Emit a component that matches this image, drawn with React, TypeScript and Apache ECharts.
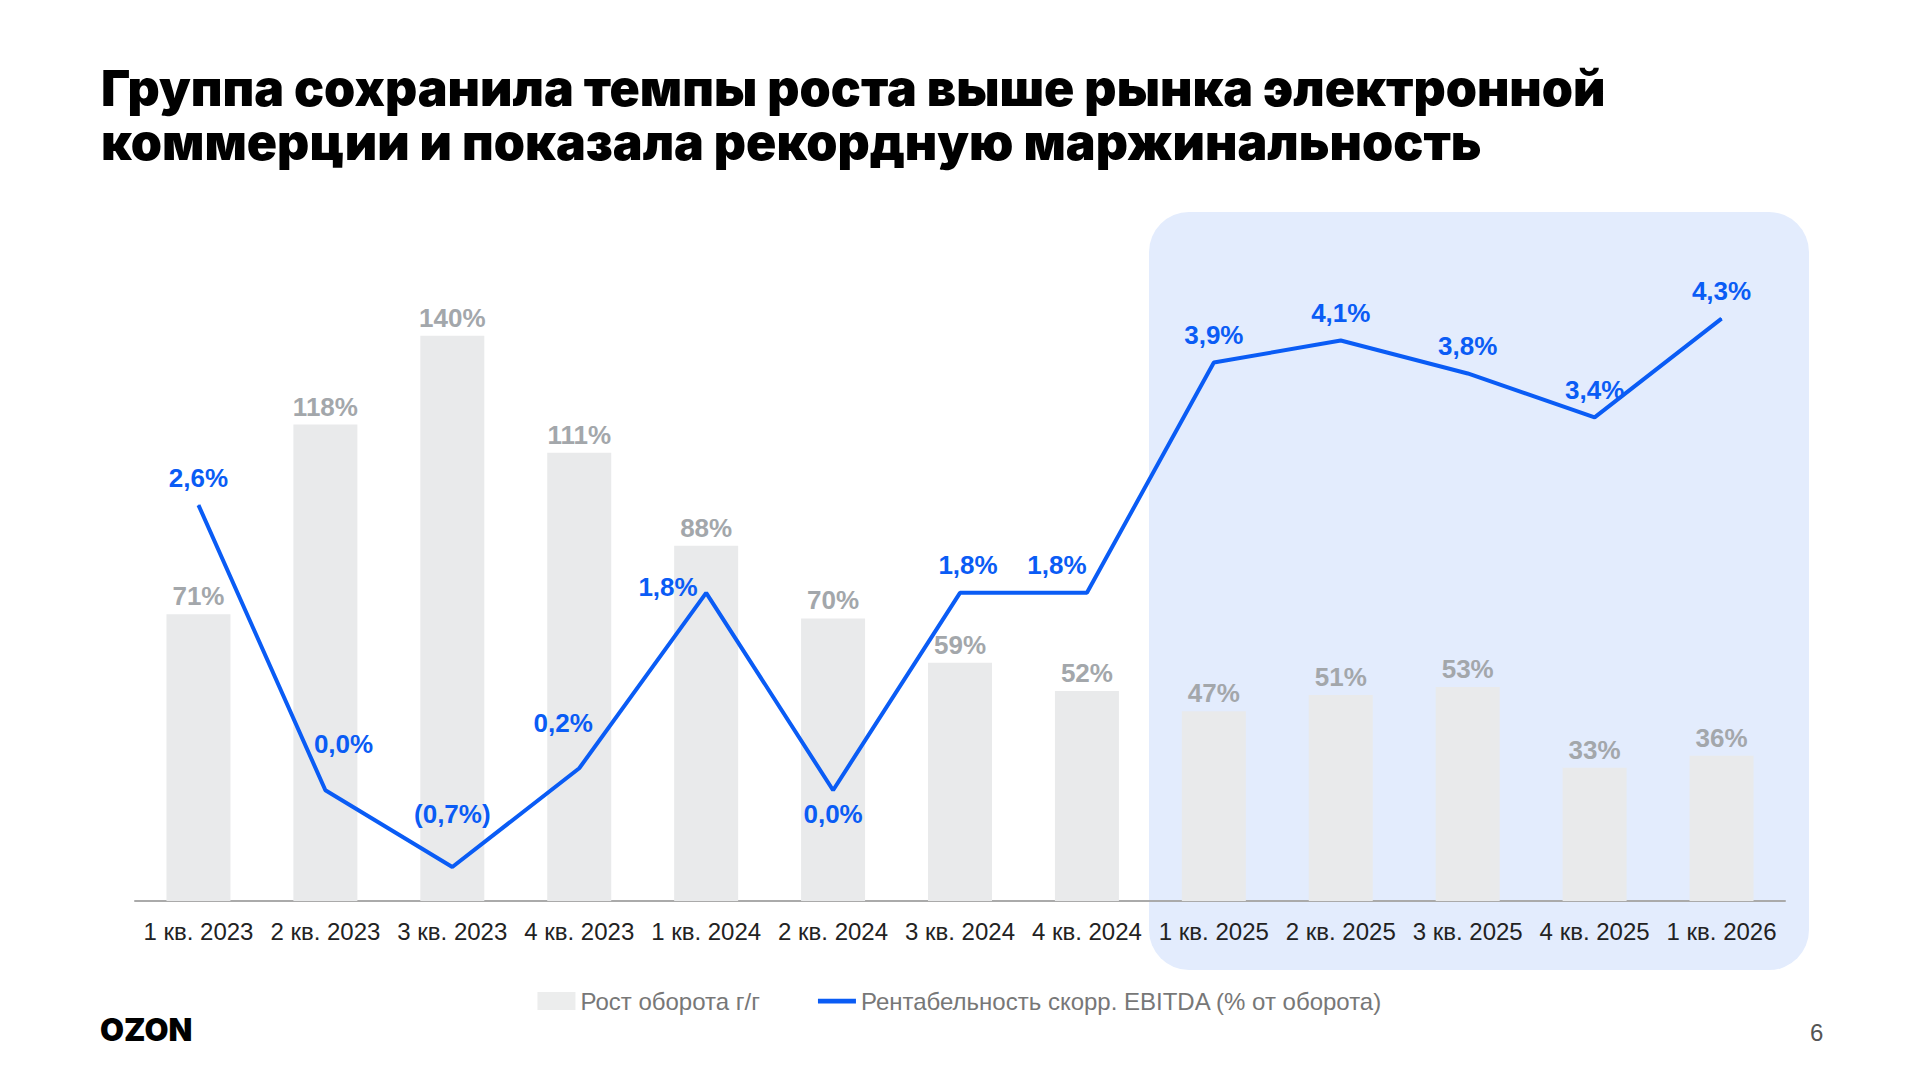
import React, { useEffect, useRef } from 'react';
import * as echarts from 'echarts';

const categories = ['1 кв. 2023', '2 кв. 2023', '3 кв. 2023', '4 кв. 2023', '1 кв. 2024', '2 кв. 2024', '3 кв. 2024', '4 кв. 2024', '1 кв. 2025', '2 кв. 2025', '3 кв. 2025', '4 кв. 2025', '1 кв. 2026'];
const growth = [71, 118, 140, 111, 88, 70, 59, 52, 47, 51, 53, 33, 36];
const margin = [2.6, 0.0, -0.7, 0.2, 1.8, 0.0, 1.8, 1.8, 3.9, 4.1, 3.8, 3.4, 4.3];

const fmtMargin = (v: number) => {
  const s = Math.abs(v).toFixed(1).replace('.', ',') + '%';
  return v < 0 ? '(' + s + ')' : s;
};

// label placement tweaks for the margin line, by point index
const labelTweaks: Record<number, any> = {
  1: { position: 'right', offset: [-26, -46] },
  2: { distance: 40 },
  3: { offset: [-16, -18] },
  4: { position: 'left', distance: 8, offset: [0, -6] },
  5: { position: 'bottom', distance: 10 },
  6: { offset: [8, 0] },
  7: { offset: [-30, 0] },
};

const App = () => {
  const chartRef = useRef(null);

  useEffect(() => {
    document.body.style.margin = '0';
    const myChart = echarts.init(chartRef.current, null, { renderer: 'svg' });

    const option = {
      animation: false,
      backgroundColor: '#ffffff',
      textStyle: { fontFamily: 'Arial, Liberation Sans' },
      title: {
        text: 'Группа сохранила темпы роста выше рынка электронной\nкоммерции и показала рекордную маржинальность',
        left: 96,
        top: 56,
        textStyle: { fontFamily: 'Inter', fontWeight: 900, fontSize: 50, lineHeight: 54, color: '#000' },
      },
      graphic: [
        {
          type: 'rect',
          z: 0,
          shape: { x: 1149, y: 212, width: 660, height: 758, r: 40 },
          style: { fill: '#e3ecfd' },
        },
        {
          type: 'text',
          left: 100,
          top: 1014,
          style: { text: 'OZON', font: '900 31px Inter', fill: '#000' },
        },
        {
          type: 'text',
          left: 1810,
          top: 1020,
          style: { text: '6', font: '24px Arial', fill: '#555' },
        },
      ],
      legend: {
        top: 984,
        left: 'center',
        itemGap: 58,
        itemWidth: 38,
        itemHeight: 18,
        textStyle: { fontSize: 24, color: '#777' },
        data: [
          { name: 'Рост оборота г/г', icon: 'rect', itemStyle: { color: '#eceded' } },
          { name: 'Рентабельность скорр. EBITDA (% от оборота)', icon: 'path://M0,6.5h40v5h-40z' },
        ],
      },
      grid: { left: 135, right: 135, top: 255, bottom: 179 },
      xAxis: {
        type: 'category',
        data: categories,
        axisLine: { lineStyle: { color: '#aaa', width: 2 } },
        axisTick: { show: false },
        axisLabel: { fontSize: 24, color: '#222', margin: 18, interval: 0 },
      },
      yAxis: [
        { type: 'value', min: 0, max: 160, show: false, splitLine: { show: false } },
        { type: 'value', min: -1.01, max: 4.88, show: false, splitLine: { show: false } },
      ],
      series: [
        {
          name: 'Рост оборота г/г',
          type: 'bar',
          data: growth,
          barWidth: 64,
          z: 2,
          itemStyle: { color: '#e9eaeb' },
          label: {
            show: true,
            position: 'top',
            formatter: (p: any) => p.value + '%',
            fontSize: 26,
            fontWeight: 'bold',
            color: '#a3a7ab',
          },
        },
        {
          name: 'Рентабельность скорр. EBITDA (% от оборота)',
          type: 'line',
          yAxisIndex: 1,
          data: margin.map((v, i) => (labelTweaks[i] ? { value: v, label: labelTweaks[i] } : { value: v })),
          z: 3,
          symbol: 'circle',
          symbolSize: 1,
          showSymbol: true,
          color: '#0a5cf5',
          lineStyle: { color: '#0a5cf5', width: 4 },
          label: {
            show: true,
            position: 'top',
            distance: 14,
            formatter: (p: any) => fmtMargin(p.value),
            fontSize: 26,
            fontWeight: 'bold',
            color: '#0a5cf5',
          },
        },
      ],
    };

    myChart.setOption(option);
    return () => {
      myChart.dispose();
    };
  }, []);

  return <div ref={chartRef} style={{ width: '1920px', height: '1080px' }} />;
};

export default App;
